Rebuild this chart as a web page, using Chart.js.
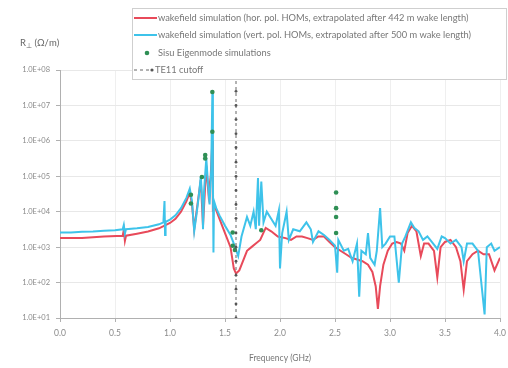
<!DOCTYPE html>
<html><head><meta charset="utf-8">
<script src="https://cdn.jsdelivr.net/npm/chart.js@4/dist/chart.umd.min.js"></script>
<style>html,body{margin:0;padding:0;background:#fff}#wrap{width:508px;height:368px;position:relative}</style>
</head><body><div id="wrap"><canvas id="c"></canvas></div>
<script>
// ---- data ----
const xTickValues = [0, 0.5, 1, 1.5, 2, 2.5, 3, 3.5, 4];
const yTickValues = [1e1, 1e2, 1e3, 1e4, 1e5, 1e6, 1e7, 1e8];

const redFreq = [0.00,0.20,0.40,0.57,0.58,0.59,0.60,0.70,0.80,0.90,1.00,1.05,1.10,1.15,1.18,1.20,1.22,1.25,1.28,1.30,1.33,1.35,1.37,1.385,1.39,1.40,1.45,1.50,1.55,1.58,1.60,1.63,1.70,1.74,1.78,1.82,1.87,1.92,1.98,2.05,2.10,2.15,2.20,2.25,2.30,2.35,2.40,2.45,2.50,2.55,2.60,2.65,2.70,2.75,2.80,2.84,2.87,2.89,2.91,2.94,2.98,3.02,3.06,3.10,3.13,3.16,3.20,3.24,3.28,3.31,3.35,3.40,3.43,3.46,3.50,3.55,3.60,3.64,3.67,3.70,3.75,3.80,3.85,3.90,3.95,4.00];
const redVal = [1.8e3,1.8e3,2.0e3,2.1e3,3.0e3,1.5e3,2.1e3,2.4e3,2.75e3,3.4e3,4.8e3,6.3e3,1.0e4,2.0e4,3.5e4,1.6e4,3.2e3,1.6e4,7.9e4,4.0e3,2.0e5,3.2e4,1.0e5,1.0e6,1.0e4,1.6e4,6.3e3,2.5e3,1.0e3,2.5e2,1.8e2,2.2e2,7.9e2,1.0e3,1.26e3,1.6e3,3.5e3,2.8e3,2.0e3,1.8e3,1.6e3,2.0e3,2.0e3,1.8e3,1.6e3,2.0e3,2.0e3,1.4e3,1.0e3,7.9e2,6.3e2,5.0e2,4.5e2,4.0e2,3.2e2,2.0e2,7.9e1,1.8e1,7.9e1,3.2e2,7.9e2,1.26e3,1.4e3,1.26e3,7.9e2,2.5e3,4.0e3,2.8e3,5.6e2,1.26e3,1.26e3,7.9e2,1.4e2,1.0e3,1.4e3,1.6e3,1.0e3,4.0e2,6.3e1,4.0e2,6.3e2,7.9e2,6.3e2,6.3e2,2.2e2,5.0e2];

const cyanFreq = [0.00,0.10,0.20,0.30,0.40,0.50,0.57,0.58,0.59,0.60,0.70,0.80,0.90,0.94,0.95,0.955,0.96,1.00,1.05,1.10,1.15,1.18,1.20,1.22,1.24,1.26,1.28,1.295,1.30,1.31,1.33,1.345,1.36,1.375,1.385,1.39,1.395,1.40,1.42,1.45,1.50,1.55,1.58,1.62,1.65,1.70,1.73,1.76,1.78,1.80,1.81,1.83,1.85,1.88,1.92,1.96,1.99,2.00,2.02,2.06,2.08,2.12,2.18,2.24,2.28,2.30,2.35,2.40,2.45,2.50,2.52,2.53,2.58,2.62,2.66,2.70,2.72,2.74,2.78,2.80,2.82,2.86,2.88,2.91,2.93,2.96,3.00,3.04,3.08,3.11,3.14,3.19,3.22,3.26,3.30,3.34,3.38,3.43,3.47,3.50,3.55,3.60,3.65,3.67,3.70,3.75,3.80,3.86,3.88,3.92,3.95,4.00];
const cyanVal = [2.6e3,2.6e3,2.7e3,2.75e3,2.9e3,3.0e3,3.2e3,4.2e3,2.4e3,3.2e3,3.4e3,3.7e3,4.4e3,5.0e3,2.0e4,2.2e3,5.2e3,6.0e3,7.9e3,1.26e4,2.5e4,4.5e4,2.0e4,2.8e3,7.9e3,2.5e4,1.0e5,1.6e4,3.2e3,4.0e4,3.2e5,6.3e4,1.6e4,1.6e5,2.2e7,1.0e5,7.1e2,2.0e4,1.26e4,7.9e3,4.0e3,2.2e3,1.26e3,5.6e2,2.0e3,7.1e3,4.0e3,1.0e4,3.2e3,8.9e4,4.0e3,7.1e4,5.0e3,1.0e4,6.3e3,4.0e3,1.1e4,2.5e2,2.5e3,1.0e4,1.6e3,3.2e3,2.8e3,5.0e3,3.2e3,1.4e3,2.8e3,2.2e3,1.6e3,1.1e3,1.9e2,1.6e3,7.9e2,8.9e2,4.0e2,1.26e3,4.0e1,7.9e2,6.3e2,2.5e3,5.0e2,3.2e2,7.9e2,1.26e4,1.0e3,1.26e3,2.0e3,2.0e3,1.0e2,1.26e3,2.0e3,5.0e3,3.5e3,2.8e3,1.6e3,2.0e3,1.4e3,8.9e2,2.0e3,1.8e3,1.26e3,1.6e3,1.0e3,4.0e2,1.26e3,1.26e3,7.9e2,1.26e1,1.0e3,1.26e3,7.9e2,1.0e3];

const eigenFreq = [1.19,1.19,1.29,1.32,1.32,1.385,1.385,1.57,1.57,1.59,1.83,2.51,2.51,2.51,2.51];
const eigenVal = [3.0e4,1.7e4,9.5e4,4.0e5,3.2e5,2.4e7,1.8e6,2.6e3,1.1e3,8.3e2,3.0e3,3.5e4,1.26e4,7.1e3,2.5e3];

const cutoffFreq = [1.6,1.6,1.6,1.6,1.6,1.6,1.6,1.6,1.6,1.6,1.6,1.6,1.6,1.6,1.6,1.6,1.6,1.6,1.6];
const cutoffVal = [1e1,2.5e1,6.5e1,1.6e2,4e2,1e3,2.5e3,6.5e3,1.6e4,4e4,1e5,2.5e5,6.5e5,1.6e6,4e6,1e7,2.5e7,6.5e7,1e8];

const seriesNames = [
  'wakefield simulation (hor. pol. HOMs, extrapolated after 442 m wake length)',
  'wakefield simulation (vert. pol. HOMs, extrapolated after 500 m wake length)',
  'Sisu Eigenmode simulations',
  'TE11 cutoff'
];
const xTitle = 'Frequency (GHz)';
const yTitleMain = 'R';
const yTitleSub = '⊥';
const yTitleUnit = ' (Ω/m)';

// ---- styles ----
const RED = '#e84a5a', CYAN = '#3ec3ea', GREEN = '#2f8f55', DARK = '#666666';
const FONT = 'Lato, "Open Sans", sans-serif';
const pts = (xs, ys) => xs.map((x, i) => ({x, y: ys[i]}));

const legendPlugin = {
  id: 'boxLegend',
  afterDraw(chart) {
    const ctx = chart.ctx;
    ctx.save();
    const bx = 132.5, by = 8.5, bw = 374, bh = 71;
    ctx.fillStyle = '#fff';
    ctx.fillRect(bx, by, bw, bh);
    ctx.strokeStyle = '#cfcfcf';
    ctx.lineWidth = 1;
    ctx.strokeRect(bx, by, bw, bh);
    const rows = [18, 35, 53, 70];
    ctx.font = '9.3px ' + FONT;
    ctx.fillStyle = '#777';
    ctx.textBaseline = 'middle';
    ctx.textAlign = 'left';
    [[RED, rows[0]], [CYAN, rows[1]]].forEach(([c, y]) => {
      ctx.strokeStyle = c; ctx.lineWidth = 2; ctx.setLineDash([]);
      ctx.beginPath(); ctx.moveTo(134, y); ctx.lineTo(157, y); ctx.stroke();
    });
    ctx.fillStyle = GREEN;
    ctx.beginPath(); ctx.arc(147, rows[2], 2.3, 0, Math.PI * 2); ctx.fill();
    ctx.strokeStyle = DARK; ctx.lineWidth = 1; ctx.setLineDash([3, 3]);
    ctx.beginPath(); ctx.moveTo(134, rows[3]); ctx.lineTo(151, rows[3]); ctx.stroke();
    ctx.setLineDash([]);
    ctx.fillStyle = '#555';
    ctx.beginPath(); ctx.arc(152, rows[3], 1.6, 0, Math.PI * 2); ctx.fill();
    ctx.fillStyle = '#777';
    ctx.fillText(seriesNames[0], 158, rows[0]);
    ctx.fillText(seriesNames[1], 158, rows[1]);
    ctx.fillText(seriesNames[2], 158, rows[2]);
    ctx.fillText(seriesNames[3], 155, rows[3]);
    ctx.fillStyle = '#666';
    ctx.font = '9.5px ' + FONT;
    ctx.fillText(yTitleMain, 20, 43);
    const w1 = ctx.measureText(yTitleMain).width;
    ctx.font = '6.5px ' + FONT;
    ctx.fillText(yTitleSub, 20 + w1, 46);
    const w2 = ctx.measureText(yTitleSub).width;
    ctx.font = '9.5px ' + FONT;
    ctx.fillText(yTitleUnit, 20 + w1 + w2, 43);
    ctx.restore();
  }
};

new Chart(document.getElementById('c'), {
  type: 'line',
  data: {
    datasets: [
      { label: seriesNames[3], data: pts(cutoffFreq, cutoffVal), borderColor: DARK, borderWidth: 1,
        borderDash: [3, 3], pointRadius: 1.4, pointBackgroundColor: '#555', pointBorderWidth: 0, order: 0 },
      { label: seriesNames[2], data: pts(eigenFreq, eigenVal), showLine: false, pointRadius: 2.3,
        pointBackgroundColor: GREEN, pointBorderWidth: 0, order: 1 },
      { label: seriesNames[1], data: pts(cyanFreq, cyanVal), borderColor: CYAN, borderWidth: 2,
        pointRadius: 0, tension: 0, order: 2 },
      { label: seriesNames[0], data: pts(redFreq, redVal), borderColor: RED, borderWidth: 2,
        pointRadius: 0, tension: 0, order: 3 }
    ]
  },
  options: {
    responsive: true, maintainAspectRatio: false, animation: false, devicePixelRatio: 1,
    layout: { padding: { top: 70, right: 8, left: 0, bottom: 0 } },
    plugins: { legend: { display: false }, tooltip: { enabled: false } },
    scales: {
      x: {
        type: 'linear', min: 0, max: 4,
        afterBuildTicks: a => { a.ticks = xTickValues.map(v => ({ value: v })); },
        afterFit: s => { s.height = 50; s.paddingRight = 0; s.paddingLeft = 0; },
        ticks: { callback: v => v.toFixed(1), color: '#8a8a8a', font: { family: FONT, size: 8.5 }, padding: 6, maxRotation: 0 },
        grid: { color: '#efefef', tickColor: '#b0b0b0', tickLength: 4 },
        border: { color: '#b0b0b0' },
        title: { display: true, text: xTitle, color: '#777', font: { family: FONT, size: 8.5 }, padding: { top: 8, bottom: 5 } }
      },
      y: {
        type: 'logarithmic', min: 1e1, max: 1e8,
        afterBuildTicks: a => { a.ticks = yTickValues.map(v => ({ value: v })); },
        afterFit: s => { s.width = 60; },
        ticks: {
          callback: v => { const e = Math.round(Math.log10(v)); return '1.0E' + (e >= 0 ? '+' : '-') + String(Math.abs(e)).padStart(2, '0'); },
          color: '#8a8a8a', font: { family: FONT, size: 7.5 }, padding: 6
        },
        grid: { color: '#e8e8e8', tickColor: '#b0b0b0', tickLength: 4 },
        border: { color: '#b0b0b0' }
      }
    }
  },
  plugins: [legendPlugin]
});
</script></body></html>
